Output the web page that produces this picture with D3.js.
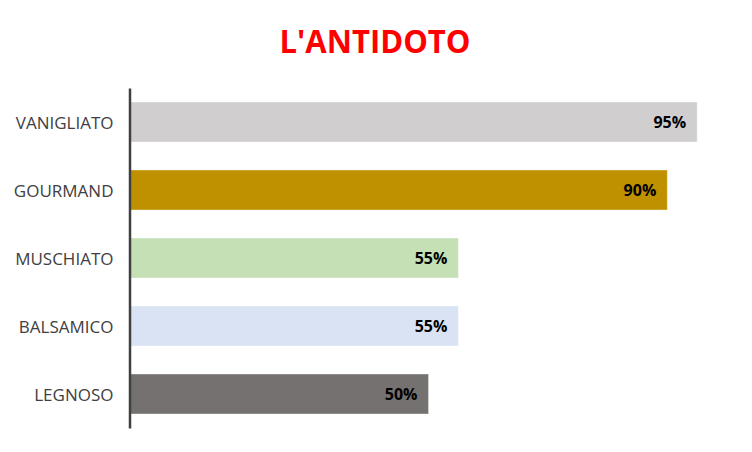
<!DOCTYPE html>
<html><head><meta charset="utf-8">
<script src="https://cdn.jsdelivr.net/npm/d3@7"></script>
<style>body{margin:0;background:#fff}</style>
</head><body>
<svg id="c" width="752" height="452"></svg>
<script>
const title = "L'ANTIDOTO";
const categories = ["VANIGLIATO","GOURMAND","MUSCHIATO","BALSAMICO","LEGNOSO"];
const values = [0.95,0.90,0.55,0.55,0.50];
const colors = ["#D0CECE","#BF9000","#C5E0B4","#DAE3F3","#767171"];

const svg = d3.select("#c");
const x = d3.scaleLinear().domain([0,1]).range([130,727]);
const y = d3.scaleBand().domain(categories).range([88,428]).paddingInner(0.412).paddingOuter(0.206);

svg.append("text").attr("x",375).attr("y",53).attr("text-anchor","middle")
  .attr("font-family","Open Sans").attr("font-weight","bold").attr("font-size",33)
  .attr("textLength",191).attr("lengthAdjust","spacingAndGlyphs")
  .attr("fill","#FF0000").text(title);

svg.selectAll("rect.bar").data(categories).enter().append("rect")
  .attr("class","bar")
  .attr("x",x(0)).attr("y",d=>y(d))
  .attr("width",(d,i)=>x(values[i])-x(0)).attr("height",y.bandwidth())
  .attr("fill",(d,i)=>colors[i])
  .attr("stroke","rgba(255,255,255,0.35)").attr("stroke-width",1);

svg.selectAll("text.val").data(categories).enter().append("text")
  .attr("class","val")
  .attr("x",(d,i)=>x(values[i])-11).attr("y",d=>y(d)+y.bandwidth()/2+6)
  .attr("text-anchor","end").attr("font-family","Open Sans").attr("font-weight","bold")
  .attr("font-size",16).attr("fill","#000")
  .text((d,i)=>Math.round(values[i]*100)+"%");

const ax = d3.axisLeft(y).tickSize(0).tickPadding(16);
const g = svg.append("g").attr("transform","translate(129.5,0)").call(ax);
g.select(".domain").attr("stroke","#404040").attr("stroke-width",2.5);
g.selectAll("text").attr("font-family","Open Sans").attr("font-size",17).attr("fill","#404040").attr("dy","0.4em");
</script>
</body></html>
